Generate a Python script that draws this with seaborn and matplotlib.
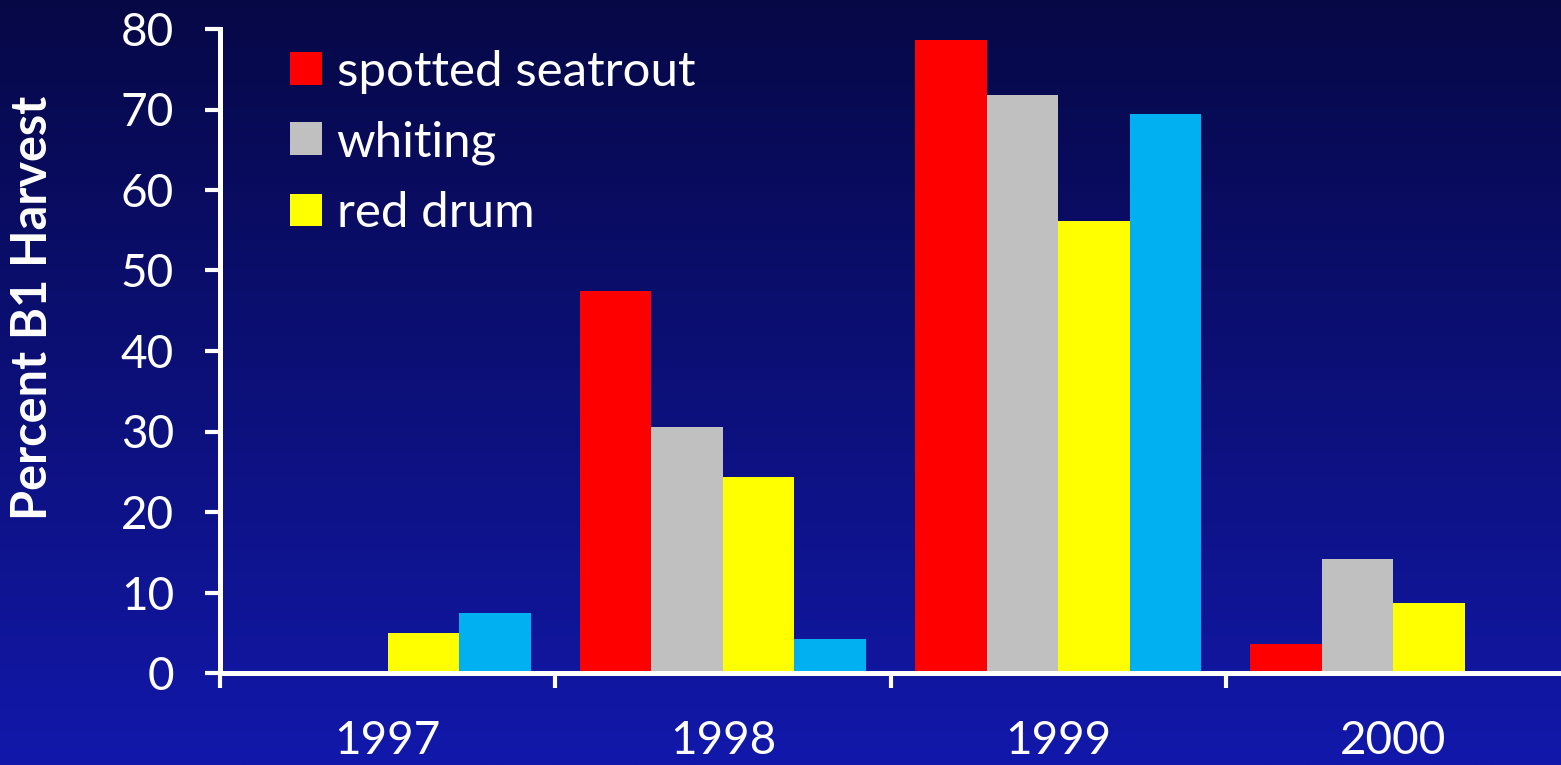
import numpy as np
import pandas as pd
import matplotlib
matplotlib.use("Agg")
import matplotlib.pyplot as plt
import seaborn as sns

years = ["1997", "1998", "1999", "2000"]
species = ["spotted seatrout", "whiting", "red drum", "other"]
seatrout = [0.0, 47.4, 78.6, 3.6]
whiting = [0.2, 30.5, 71.8, 14.2]
red_drum = [5.0, 24.3, 56.1, 8.7]
other = [7.5, 4.2, 69.4, 0.0]
colors = ["#FF0000", "#C0C0C0", "#FFFF00", "#00B0F0"]
yticks = [0, 10, 20, 30, 40, 50, 60, 70, 80]

rows = []
for name, vals in zip(species, [seatrout, whiting, red_drum, other]):
    for y, v in zip(years, vals):
        rows.append({"year": y, "species": name, "value": v})
df = pd.DataFrame(rows)

sns.set_style("white")
plt.rcParams['font.family'] = ['Lato', 'DejaVu Sans']

W, H = 1561, 765
fig = plt.figure(figsize=(W / 100, H / 100), dpi=100)

# gradient background
bg = fig.add_axes([0, 0, 1, 1], zorder=-10)
top = np.array([6, 8, 70]) / 255.0
bot = np.array([18, 24, 170]) / 255.0
t = np.linspace(0, 1, 256)[:, None]
grad = top[None, :] * (1 - t) + bot[None, :] * t
img = np.repeat(grad[:, None, :], 2, axis=1)
bg.imshow(img, aspect="auto", extent=[0, 1, 0, 1], origin="upper")
bg.axis("off")

ax = fig.add_axes([220 / W, (H - 673) / H, (W - 220) / W, 644 / H])
ax.patch.set_alpha(0)

sns.barplot(data=df, x="year", y="value", hue="species", hue_order=species,
            palette=colors, width=0.853, saturation=1, ax=ax, legend=True,
            edgecolor="none", linewidth=0)

ax.set_xlim(-0.5, 3.5)
ax.set_ylim(0, 80)
ax.set_yticks(yticks)
ax.set_yticklabels([str(v) for v in yticks])

for s in ["top", "right"]:
    ax.spines[s].set_visible(False)
for s in ["left", "bottom"]:
    ax.spines[s].set_color("white")
    ax.spines[s].set_linewidth(3.6)

ax.tick_params(axis="y", colors="white", labelsize=33, length=11, width=3,
               direction="out", pad=22, left=True)
ax.set_xticks([-0.5, 0.5, 1.5, 2.5], minor=True)
ax.tick_params(axis="x", which="minor", length=11, width=3, color="white",
               direction="out", bottom=True)
ax.tick_params(axis="x", which="major", length=0, labelsize=33,
               labelcolor="white", pad=34)

ax.set_xlabel("")
ax.set_ylabel("")
fig.text(33 / W, 1 - 308 / H, "Percent B1 Harvest", color="white",
         fontsize=35, fontweight="bold", rotation=90, ha="center", va="center")

handles, labels = ax.get_legend_handles_labels()
leg = ax.legend(handles[:3], labels[:3], loc="upper left",
                bbox_to_anchor=(0.052, 0.968), frameon=False, fontsize=35.5,
                labelcolor="white", handlelength=0.65, handleheight=0.65,
                handletextpad=0.3, labelspacing=0.54, borderpad=0,
                borderaxespad=0)

fig.savefig("out.png", dpi=100, facecolor=fig.get_facecolor())
